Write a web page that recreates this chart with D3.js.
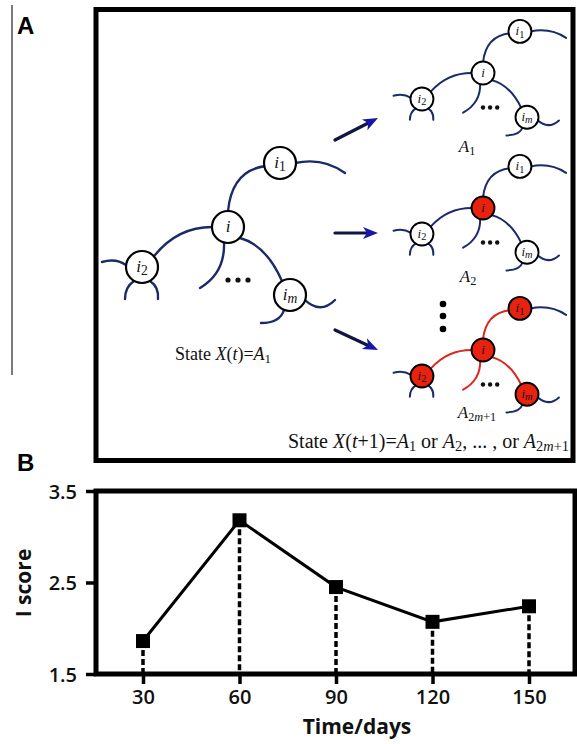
<!DOCTYPE html>
<html lang="en">
  <head>
    <meta charset="UTF-8" />
    <script src="https://d3js.org/d3.v7.min.js"></script>
    <title>State transition and I score</title>
    <style>
      body { margin: 0; background: #fff; }
    </style>
  </head>
  <body>
    <svg id="fig" width="577" height="744"></svg>

    <script>
      // ---- panel B data ----
      const days = [30, 60, 90, 120, 150];
      const iScore = [1.86, 3.18, 2.45, 2.07, 2.24];
      const xTicks = [30, 60, 90, 120, 150];
      const yTicks = [1.5, 2.5, 3.5];

      // ---- panel A diagram: one tree template (relative to node i) ----
      const treeNodes = [
        { id: "i", x: 0, y: 0, sub: "" },
        { id: "i1", x: 52, y: -64, sub: "1" },
        { id: "i2", x: -86, y: 40, sub: "2" },
        { id: "im", x: 62, y: 68, sub: "m" }
      ];
      // quadratic edges: start, control, end; inner = edges touching i
      const treeEdges = [
        { p: [[0, -16], [4, -57], [38, -61]], inner: true },
        { p: [[-16, 0], [-50, 0], [-73, 28]], inner: true },
        { p: [[-4, 16], [-3, 46], [-28, 61]], inner: true },
        { p: [[12, 11], [38, 18], [54, 54]], inner: true },
        { p: [[67, -64], [95, -70], [117, -54]], inner: false },
        { p: [[-102, 38], [-112, 31], [-126, 35]], inner: false },
        { p: [[-94, 54], [-103, 60], [-103, 72]], inner: false },
        { p: [[-78, 54], [-69, 60], [-70, 72]], inner: false },
        { p: [[56, 83], [52, 96], [33, 96]], inner: false },
        { p: [[76, 72], [92, 88], [107, 73]], inner: false }
      ];
      const trees = [
        { cx: 228, cy: 227, sx: 1, sy: 1, r: 16, fs: 17, red: [], redEdges: false },
        { cx: 483, cy: 73, sx: 0.71, sy: 0.65, r: 11.5, fs: 13, red: [], redEdges: false },
        { cx: 483, cy: 208, sx: 0.71, sy: 0.65, r: 11.5, fs: 13, red: ["i"], redEdges: false },
        { cx: 483, cy: 350, sx: 0.71, sy: 0.65, r: 11.5, fs: 13, red: ["i", "i1", "i2", "im"], redEdges: true }
      ];
      const arrows = [
        { from: [335, 140], to: [378, 118] },
        { from: [335, 233], to: [378, 233] },
        { from: [335, 330], to: [378, 350] }
      ];

      const navy = "#1b2a6b";
      const redEdge = "#d9281b";
      const redFill = "#e8220e";

      const svg = d3.select("#fig");

      // left rule and panel letters
      svg.append("line").attr("x1", 12).attr("x2", 12).attr("y1", 5).attr("y2", 375)
        .attr("stroke", "#222").attr("stroke-width", 1.2);
      svg.append("text").attr("x", 17).attr("y", 34).text("A")
        .attr("font-family", "Liberation Sans, Arial").attr("font-weight", "bold").attr("font-size", 24);
      svg.append("text").attr("x", 17).attr("y", 471).text("B")
        .attr("font-family", "Liberation Sans, Arial").attr("font-weight", "bold").attr("font-size", 24);

      // panel A frame
      svg.append("rect").attr("x", 96).attr("y", 9.5).attr("width", 477).attr("height", 451)
        .attr("fill", "none").attr("stroke", "#000").attr("stroke-width", 5);

      const gA = svg.append("g");

      function edgePath(e, t) {
        const p = d3.path();
        const pt = (q) => [t.cx + q[0] * t.sx, t.cy + q[1] * t.sy];
        const a = pt(e.p[0]), c = pt(e.p[1]), b = pt(e.p[2]);
        p.moveTo(a[0], a[1]);
        p.quadraticCurveTo(c[0], c[1], b[0], b[1]);
        return p.toString();
      }

      trees.forEach((t) => {
        const g = gA.append("g");
        g.selectAll("path.edge")
          .data(treeEdges)
          .join("path")
          .attr("class", "edge")
          .attr("d", (e) => edgePath(e, t))
          .attr("fill", "none")
          .attr("stroke", (e) => (t.redEdges && e.inner ? redEdge : navy))
          .attr("stroke-width", t.sx === 1 ? 2.4 : 2)
          .attr("stroke-linecap", "round");

        // three dots between branches
        g.selectAll("circle.dot")
          .data([-10, 0, 10])
          .join("circle")
          .attr("class", "dot")
          .attr("cx", (d) => t.cx + (10 + d) * t.sx)
          .attr("cy", t.cy + 53 * t.sy)
          .attr("r", t.sx === 1 ? 2.6 : 2.2)
          .attr("fill", "#111");

        const nodes = g.selectAll("g.node")
          .data(treeNodes)
          .join("g")
          .attr("class", "node")
          .attr("transform", (n) => `translate(${t.cx + n.x * t.sx},${t.cy + n.y * t.sy})`);
        nodes.append("circle")
          .attr("r", t.r)
          .attr("fill", (n) => (t.red.includes(n.id) ? redFill : "#fff"))
          .attr("stroke", "#000")
          .attr("stroke-width", t.sx === 1 ? 2.2 : 1.9);
        const lbl = nodes.append("text")
          .attr("text-anchor", "middle")
          .attr("y", t.fs * 0.3)
          .attr("font-family", "Liberation Serif, DejaVu Serif, serif")
          .attr("font-size", t.fs)
          .attr("fill", "#111");
        lbl.append("tspan").attr("font-style", "italic").text("i");
        lbl.filter((n) => n.sub)
          .append("tspan")
          .attr("dy", t.fs * 0.18)
          .attr("font-size", t.fs * 0.8)
          .attr("font-style", (n) => (n.sub === "m" ? "italic" : "normal"))
          .text((n) => n.sub);
      });

      // arrows
      arrows.forEach((a) => {
        const dx = a.to[0] - a.from[0], dy = a.to[1] - a.from[1];
        const len = Math.hypot(dx, dy), ux = dx / len, uy = dy / len;
        const hl = 15, hw = 6;
        const bx = a.to[0] - ux * hl, by = a.to[1] - uy * hl;
        gA.append("line")
          .attr("x1", a.from[0]).attr("y1", a.from[1])
          .attr("x2", bx + ux * 3).attr("y2", by + uy * 3)
          .attr("stroke", "#10163f").attr("stroke-width", 3.2).attr("stroke-linecap", "round");
        const head = d3.path();
        head.moveTo(a.to[0], a.to[1]);
        head.lineTo(bx - uy * hw, by + ux * hw);
        head.lineTo(bx + ux * 4, by + uy * 4);
        head.lineTo(bx + uy * hw, by - ux * hw);
        head.closePath();
        gA.append("path").attr("d", head.toString()).attr("fill", "#1616a8");
      });

      // vertical ellipsis
      gA.selectAll("circle.vdot")
        .data([304, 316, 329])
        .join("circle")
        .attr("class", "vdot")
        .attr("cx", 443).attr("cy", (d) => d).attr("r", 3.3).attr("fill", "#000");

      // math-style labels
      function mathText(x, y, size, anchor, parts) {
        const t = gA.append("text")
          .attr("x", x).attr("y", y)
          .attr("text-anchor", anchor)
          .attr("font-family", "Liberation Serif, DejaVu Serif, serif")
          .attr("font-size", size)
          .attr("fill", "#111");
        let shifted = false;
        parts.forEach((p) => {
          const s = t.append("tspan").text(p.t);
          if (p.it) s.attr("font-style", "italic");
          if (p.sub) {
            s.attr("font-size", size * 0.72);
            if (!shifted) { s.attr("dy", size * 0.15); shifted = true; }
          } else if (shifted) {
            s.attr("dy", -size * 0.15); shifted = false;
          }
        });
        return t;
      }

      mathText(223, 360, 18, "middle", [
        { t: "State " }, { t: "X", it: true }, { t: "(" }, { t: "t", it: true },
        { t: ")=" }, { t: "A", it: true }, { t: "1", sub: true }
      ]);
      mathText(467, 152, 17, "middle", [{ t: "A", it: true }, { t: "1", sub: true }]);
      mathText(468, 282, 17, "middle", [{ t: "A", it: true }, { t: "2", sub: true }]);
      mathText(477, 418, 17, "middle", [
        { t: "A", it: true }, { t: "2", sub: true }, { t: "m", sub: true, it: true }, { t: "+1", sub: true }
      ]);
      mathText(569, 448, 20, "end", [
        { t: "State " }, { t: "X", it: true }, { t: "(" }, { t: "t", it: true },
        { t: "+1)=" }, { t: "A", it: true }, { t: "1", sub: true }, { t: " or " },
        { t: "A", it: true }, { t: "2", sub: true }, { t: ", ... , or " },
        { t: "A", it: true }, { t: "2", sub: true }, { t: "m", sub: true, it: true }, { t: "+1", sub: true }
      ]);

      // ---- panel B chart ----
      const plotL = 96, plotR = 575, plotT = 491, plotB = 674;
      const x = d3.scaleLinear().domain([30, 150]).range([143, 529]);
      const y = d3.scaleLinear().domain([1.5, 3.5]).range([plotB, plotT]);
      const gB = svg.append("g");
      const axisFont = "Open Sans, Lato, sans-serif";

      const yAxis = gB.append("g")
        .attr("transform", `translate(${plotL},0)`)
        .call(d3.axisLeft(y).tickValues(yTicks).tickSize(10).tickPadding(9).tickFormat(d3.format(".1f")));
      const xAxis = gB.append("g")
        .attr("transform", `translate(0,${plotB})`)
        .call(d3.axisBottom(x).tickValues(xTicks).tickSize(10).tickPadding(6).tickFormat(d3.format("d")));
      [yAxis, xAxis].forEach((ax) => {
        ax.select(".domain").remove();
        ax.selectAll(".tick line").attr("stroke", "#000").attr("stroke-width", 3.5);
        ax.selectAll(".tick text")
          .attr("font-family", axisFont).attr("font-weight", 600)
          .attr("font-size", 20).attr("fill", "#111");
      });
      yAxis.selectAll(".tick text").attr("dy", "0.36em");

      // dashed drop lines
      gB.selectAll("line.drop")
        .data(days)
        .join("line")
        .attr("class", "drop")
        .attr("x1", (d) => x(d)).attr("x2", (d) => x(d))
        .attr("y1", (d, i) => y(iScore[i])).attr("y2", plotB)
        .attr("stroke", "#000").attr("stroke-width", 3.5).attr("stroke-dasharray", "6,3");

      // frame
      gB.append("rect")
        .attr("x", plotL).attr("y", plotT).attr("width", plotR - plotL).attr("height", plotB - plotT)
        .attr("fill", "none").attr("stroke", "#000").attr("stroke-width", 5);

      // line + square markers
      gB.append("path")
        .datum(days.map((d, i) => [d, iScore[i]]))
        .attr("d", d3.line().x((d) => x(d[0])).y((d) => y(d[1])))
        .attr("fill", "none").attr("stroke", "#000").attr("stroke-width", 3);
      gB.selectAll("rect.pt")
        .data(days)
        .join("rect")
        .attr("class", "pt")
        .attr("x", (d) => x(d) - 7).attr("y", (d, i) => y(iScore[i]) - 7)
        .attr("width", 14).attr("height", 14).attr("fill", "#000");

      // axis titles
      gB.append("text")
        .attr("x", 357).attr("y", 734).attr("text-anchor", "middle")
        .attr("font-family", axisFont).attr("font-weight", "bold").attr("font-size", 21)
        .attr("fill", "#111").text("Time/days");
      gB.append("text")
        .attr("transform", "translate(31,583) rotate(-90)").attr("text-anchor", "middle")
        .attr("font-family", axisFont).attr("font-weight", "bold").attr("font-size", 21)
        .attr("fill", "#111").text("I score");
    </script>
  </body>
</html>
